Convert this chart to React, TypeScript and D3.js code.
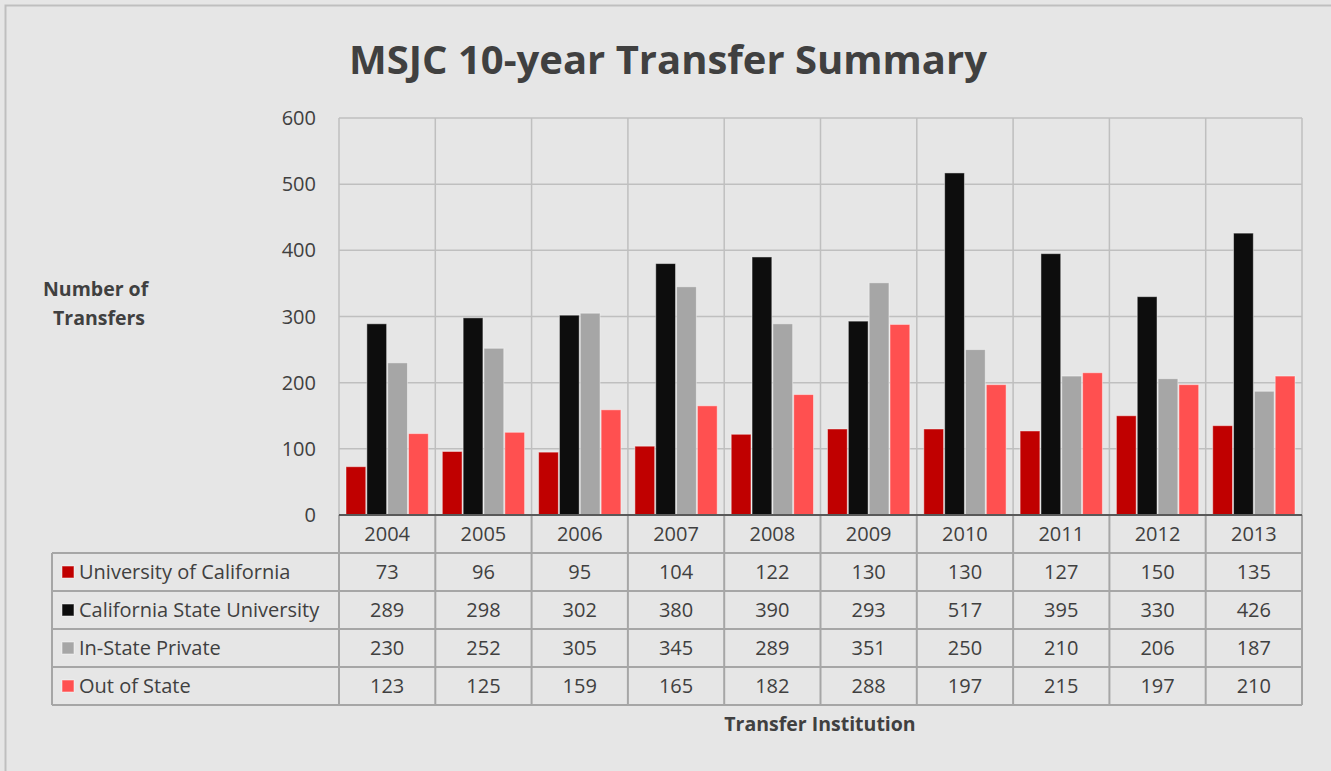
import * as d3 from "d3";

const years = ["2004", "2005", "2006", "2007", "2008", "2009", "2010", "2011", "2012", "2013"];
const seriesNames = ["University of California", "California State University", "In-State Private", "Out of State"];
const ucValues = [73, 96, 95, 104, 122, 130, 130, 127, 150, 135];
const csuValues = [289, 298, 302, 380, 390, 293, 517, 395, 330, 426];
const privateValues = [230, 252, 305, 345, 289, 351, 250, 210, 206, 187];
const outOfStateValues = [123, 125, 159, 165, 182, 288, 197, 215, 197, 210];
const yTicks = [0, 100, 200, 300, 400, 500, 600];
const colors = ["#c00000", "#0d0d0d", "#a6a6a6", "#ff5050"];

const series = [ucValues, csuValues, privateValues, outOfStateValues];

const W = 1331;
const H = 771;
const FONT = "'Open Sans', 'Noto Sans', sans-serif";
const FS = 20;

export default function App() {
  const margin = { left: 339, right: 1302, top: 118, bottom: 515 };
  const x = d3.scaleBand<string>().domain(years).range([margin.left, margin.right]);
  const inner = d3
    .scaleBand<number>()
    .domain(d3.range(series.length))
    .range([7, x.bandwidth() - 7])
    .paddingInner(0.05);
  const y = d3.scaleLinear().domain([0, 600]).range([margin.bottom, margin.top]);

  const rowH = 38;
  const tableLeft = 52;
  const tableTop = margin.bottom;
  const rowTop = (i: number) => tableTop + rowH + i * rowH;
  const tableBottom = rowTop(series.length);

  const textColor = "#404040";
  const lineColor = "#a6a6a6";

  return (
    <div style={{ position: "absolute", left: 0, top: 0 }}>
      <svg width={W} height={H} style={{ display: "block" }}>
        <rect x={0} y={0} width={W} height={H} fill="#e6e6e6" />
        <rect x={5.5} y={5.5} width={W + 10} height={H + 10} fill="none" stroke="#bfbfbf" strokeWidth={2} />

        <text x={668} y={74} textAnchor="middle" fontFamily={FONT} fontWeight="bold" fontSize={40} fill={textColor}>
          MSJC 10-year Transfer Summary
        </text>

        {/* horizontal gridlines */}
        {yTicks.map(t => (
          <line key={"g" + t} x1={margin.left} x2={margin.right} y1={y(t)} y2={y(t)} stroke="#bfbfbf" strokeWidth={1.5} />
        ))}
        {/* vertical gridlines */}
        {years.map(yr => (
          <line key={"v" + yr} x1={x(yr)!} x2={x(yr)!} y1={margin.top} y2={margin.bottom} stroke="#bfbfbf" strokeWidth={1.5} />
        ))}
        <line x1={margin.right} x2={margin.right} y1={margin.top} y2={margin.bottom} stroke="#bfbfbf" strokeWidth={1.5} />

        {/* y tick labels */}
        {yTicks.map(t => (
          <text key={"t" + t} x={316} y={y(t) + 7} textAnchor="end" fontFamily={FONT} fontSize={FS} fill={textColor}>
            {t}
          </text>
        ))}

        {/* y title */}
        <text fontFamily={FONT} fontWeight="bold" fontSize={19.5} fill={textColor}>
          <tspan x={43} y={296}>Number of</tspan>
          <tspan x={53} y={325}>Transfers</tspan>
        </text>

        {/* bars */}
        {series.map((vals, si) =>
          vals.map((v, i) => (
            <rect
              key={si + "-" + i}
              x={x(years[i])! + inner(si)!}
              y={y(v)}
              width={inner.bandwidth()}
              height={margin.bottom - y(v)}
              fill={colors[si]}
              stroke="#ffffff"
              strokeOpacity={0.45}
              strokeWidth={1}
            />
          ))
        )}

        {/* table */}
        {years.map(yr => (
          <text
            key={"yr" + yr}
            x={x(yr)! + x.bandwidth() / 2}
            y={tableTop + rowH / 2 + 7}
            textAnchor="middle"
            fontFamily={FONT}
            fontSize={FS}
            fill={textColor}
          >
            {yr}
          </text>
        ))}
        {series.map((vals, si) => (
          <g key={"row" + si}>
            <rect x={62} y={rowTop(si) + 13} width={12} height={12} fill={colors[si]} stroke="#ffffff" strokeOpacity={0.5} />
            <text x={79} y={rowTop(si) + rowH / 2 + 7} fontFamily={FONT} fontSize={FS} fill={textColor}>
              {seriesNames[si]}
            </text>
            {vals.map((v, i) => (
              <text
                key={"c" + i}
                x={x(years[i])! + x.bandwidth() / 2}
                y={rowTop(si) + rowH / 2 + 7}
                textAnchor="middle"
                fontFamily={FONT}
                fontSize={FS}
                fill={textColor}
              >
                {v}
              </text>
            ))}
          </g>
        ))}

        {/* table lines */}
        {d3.range(series.length).map(r => (
          <line key={"hr" + r} x1={tableLeft} x2={margin.right} y1={rowTop(r)} y2={rowTop(r)} stroke={lineColor} strokeWidth={2} />
        ))}
        <line x1={tableLeft} x2={margin.right} y1={tableBottom} y2={tableBottom} stroke={lineColor} strokeWidth={2} />
        <line x1={tableLeft} x2={tableLeft} y1={rowTop(0)} y2={tableBottom} stroke={lineColor} strokeWidth={2} />
        {years.map(yr => (
          <line key={"cl" + yr} x1={x(yr)!} x2={x(yr)!} y1={tableTop} y2={tableBottom} stroke={lineColor} strokeWidth={2} />
        ))}
        <line x1={margin.right} x2={margin.right} y1={tableTop} y2={tableBottom} stroke={lineColor} strokeWidth={2} />

        {/* x axis line */}
        <line x1={margin.left} x2={margin.right} y1={margin.bottom} y2={margin.bottom} stroke="#595959" strokeWidth={2} />

        <text x={820} y={731} textAnchor="middle" fontFamily={FONT} fontWeight="bold" fontSize={19.5} fill={textColor}>
          Transfer Institution
        </text>
      </svg>
    </div>
  );
}
